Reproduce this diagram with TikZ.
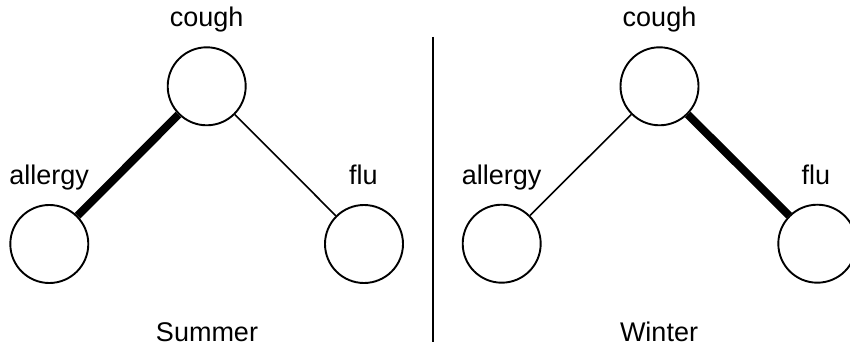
\documentclass[tikz,border=0pt]{standalone}
\usepackage{fontspec}
\setmainfont{Liberation Sans}
\begin{document}
\begin{tikzpicture}[x=1pt,y=-1pt,
  var/.style={circle,draw,line width=1.9pt,minimum size=78pt,inner sep=0pt},
  lbl/.style={anchor=base,inner sep=0pt,font=\fontsize{27}{32}\selectfont},
  weak/.style={line width=1.6pt},
  strong/.style={line width=8pt}]
\useasboundingbox (0,0) rectangle (850,347);
% Summer
\node[var] (c1) at (206.7,86.3) {};
\node[var] (a1) at (49.3,244) {};
\node[var] (f1) at (364,244) {};
\node[lbl] (tc1) at (206.7,27) {cough};
\node[lbl] (ta1) at (49.2,185) {allergy};
\node[lbl] (tf1) at (363.3,185) {flu};
\node[lbl] (ts) at (207,341.5) {Summer};
\draw[strong] (c1) -- (a1);
\draw[weak] (c1) -- (f1);
% divider
\coordinate (d1) at (433.3,37);
\coordinate (d2) at (433.3,342);
\draw[line width=1.8pt] (d1) -- (d2);
% Winter
\node[var] (c2) at (659.5,86.3) {};
\node[var] (a2) at (501.7,243.7) {};
\node[var] (f2) at (817.3,243.7) {};
\node[lbl] (tc2) at (659.5,27) {cough};
\node[lbl] (ta2) at (501.7,185) {allergy};
\node[lbl] (tf2) at (815.8,185) {flu};
\node[lbl] (tw) at (659,341.5) {Winter};
\draw[weak] (c2) -- (a2);
\draw[strong] (c2) -- (f2);
\end{tikzpicture}
\end{document}
